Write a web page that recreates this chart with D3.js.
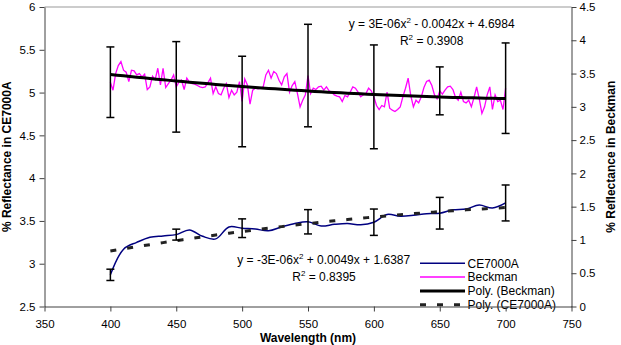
<!DOCTYPE html>
<html>
<head>
<meta charset="utf-8">
<script src="https://cdnjs.cloudflare.com/ajax/libs/d3/7.8.5/d3.min.js"></script>
<style>
    body {
        margin: 0;
        background: #fff;
        font-family: "Liberation Sans", Arial, sans-serif;
    }
    .axis text {
        font-size: 11.5px;
        fill: #000;
    }
    .axis path, .axis line {
        stroke: #404040;
    }
</style>
</head>
<body>
<svg width="621" height="345"></svg>
<script>
    // CE7000A, every 10 nm (left axis)
    var ceWavelengths = [400, 410, 420, 430, 440, 450, 460, 470, 480, 490,
        500, 510, 520, 530, 540, 550, 560, 570, 580, 590,
        600, 610, 620, 630, 640, 650, 660, 670, 680, 690, 700];
    var ceValues = [2.87, 3.17, 3.25, 3.31, 3.325, 3.34, 3.395, 3.32, 3.29, 3.43,
        3.415, 3.405, 3.385, 3.43, 3.47, 3.49, 3.44, 3.46, 3.47, 3.455,
        3.485, 3.575, 3.555, 3.565, 3.585, 3.59, 3.63, 3.64, 3.685, 3.65, 3.71];

    // Beckman, every 2 nm from 400 to 700 (right axis)
    var beckmanWavelengths = d3.range(400, 701, 2);
    var beckmanValues = [
        3.37, 3.25, 3.50, 3.62, 3.68, 3.55, 3.52, 3.38, 3.55, 3.54,
        3.48, 3.50, 3.45, 3.49, 3.26, 3.30, 3.46, 3.41, 3.58, 3.33,
        3.58, 3.29, 3.35, 3.40, 3.48, 3.30, 3.37, 3.40, 3.26, 3.43,
        3.37, 3.35, 3.34, 3.32, 3.30, 3.29, 3.30, 3.36, 3.43, 3.20,
        3.30, 3.20, 3.18, 3.28, 3.35, 3.14, 3.25, 3.18, 3.22, 3.38,
        3.08, 3.42, 3.33, 3.04, 3.25, 3.28, 3.27, 3.28, 3.30, 3.48,
        3.55, 3.43, 3.53, 3.50, 3.40, 3.33, 3.45, 3.50, 3.22, 3.32,
        3.38, 3.20, 3.00, 3.10, 3.18, 3.47, 3.20, 3.28, 3.26, 3.30,
        3.31, 3.25, 3.30, 3.24, 3.22, 3.18, 3.16, 3.15, 3.08, 3.17,
        3.15, 3.22, 3.30, 3.28, 3.22, 3.15, 3.18, 3.20, 3.28, 3.24,
        3.15, 3.02, 2.96, 3.02, 3.00, 3.22, 2.98, 2.95, 2.93, 2.96,
        3.00, 3.15, 3.28, 3.43, 3.17, 3.00, 3.10, 3.06, 3.15, 3.29,
        3.38, 3.40, 3.32, 3.18, 3.12, 3.24, 3.19, 3.25, 3.30, 3.31,
        3.26, 3.14, 3.10, 3.22, 3.08, 3.06, 3.10, 3.00, 3.14, 3.30,
        3.12, 2.90, 3.00, 3.18, 3.30, 2.96, 3.18, 3.08, 3.10, 2.96,
        3.28];

    // error bars (+/- amounts)
    var errWavelengths = [400, 450, 500, 550, 600, 650, 700];
    var ceErr = [0.066, 0.064, 0.109, 0.142, 0.154, 0.185, 0.21];
    var beckmanErr = [0.53, 0.68, 0.68, 0.77, 0.78, 0.36, 0.68];

    var xTicks = [350, 400, 450, 500, 550, 600, 650, 700, 750];
    var leftTicks = [2.5, 3, 3.5, 4, 4.5, 5, 5.5, 6];
    var rightTicks = [0, 0.5, 1, 1.5, 2, 2.5, 3, 3.5, 4, 4.5];

    var svg = d3.select("svg");
    var plotL = 44.5, plotR = 571.5, plotT = 7, plotB = 306.5;

    var x = d3.scaleLinear().domain([350, 750]).range([plotL, plotR]);
    var yL = d3.scaleLinear().domain([2.5, 6]).range([plotB, plotT]);
    var yR = d3.scaleLinear().domain([0, 4.5]).range([plotB, plotT]);

    // quadratic least squares, x centred so the sums stay small
    function polyFit(xs, ys) {
        var S = [0, 0, 0, 0, 0], T = [0, 0, 0];
        xs.forEach(function(xv, i) {
            var t = (xv - 550) / 100, p = 1;
            for (var k = 0; k < 5; k++) {
                S[k] += p;
                if (k < 3) T[k] += p * ys[i];
                p *= t;
            }
        });
        function det(m) {
            return m[0][0] * (m[1][1] * m[2][2] - m[1][2] * m[2][1])
                - m[0][1] * (m[1][0] * m[2][2] - m[1][2] * m[2][0])
                + m[0][2] * (m[1][0] * m[2][1] - m[1][1] * m[2][0]);
        }
        var A = [[S[0], S[1], S[2]], [S[1], S[2], S[3]], [S[2], S[3], S[4]]];
        var D = det(A), c = [];
        for (var j = 0; j < 3; j++) {
            var M = A.map(function(row, r) { return row.map(function(v, col) { return col === j ? T[r] : v; }); });
            c.push(det(M) / D);
        }
        return function(xv) { var t = (xv - 550) / 100; return c[0] + c[1] * t + c[2] * t * t; };
    }

    var ceData = ceWavelengths.map(function(w, i) { return [w, ceValues[i]]; });
    var beckData = beckmanWavelengths.map(function(w, i) { return [w, beckmanValues[i]]; });

    var ceFit = polyFit(ceWavelengths, ceValues);
    var beckFit = polyFit(beckmanWavelengths, beckmanValues);
    var fitX = d3.range(400, 701, 5);

    // plot area border on top
    svg.append("line")
        .attr("x1", plotL).attr("x2", plotR).attr("y1", plotT).attr("y2", plotT)
        .attr("stroke", "#999").attr("stroke-width", 1);

    // legend goes under the axis (the axis line runs through the last entry)
    var legendItems = [
        {name: "CE7000A", color: "#000080", width: 1.5, dash: null},
        {name: "Beckman", color: "#ff00ff", width: 1.5, dash: null},
        {name: "Poly. (Beckman)", color: "#000", width: 3, dash: null},
        {name: "Poly. (CE7000A)", color: "#222", width: 3, dash: "6,11"}
    ];
    var legend = svg.append("g")
        .selectAll("g")
        .data(legendItems)
        .enter().append("g")
        .attr("transform", function(d, i) { return "translate(420," + (263.3 + i * 13.8) + ")"; });
    legend.append("line")
        .attr("x1", 0).attr("x2", 45)
        .attr("stroke", function(d) { return d.color; })
        .attr("stroke-width", function(d) { return d.width; })
        .attr("stroke-dasharray", function(d) { return d.dash; });
    legend.append("text")
        .attr("x", 47.5)
        .attr("dy", "0.36em")
        .attr("font-size", "12px")
        .text(function(d) { return d.name; });

    var ceLine = d3.line()
        .x(function(d) { return x(d[0]); })
        .y(function(d) { return yL(d[1]); })
        .curve(d3.curveCatmullRom.alpha(0.5));
    var beckLine = d3.line()
        .x(function(d) { return x(d[0]); })
        .y(function(d) { return yR(d[1]); });

    svg.append("path")
        .datum(ceData)
        .attr("d", ceLine)
        .attr("fill", "none")
        .attr("stroke", "#000080")
        .attr("stroke-width", 1.5);

    svg.append("path")
        .datum(beckData)
        .attr("d", beckLine)
        .attr("fill", "none")
        .attr("stroke", "#ff00ff")
        .attr("stroke-width", 1.3);

    // trend lines
    svg.append("path")
        .datum(fitX)
        .attr("d", d3.line().x(function(d) { return x(d); }).y(function(d) { return yR(beckFit(d)); }))
        .attr("fill", "none")
        .attr("stroke", "#000")
        .attr("stroke-width", 3);

    svg.append("path")
        .datum(fitX)
        .attr("d", d3.line().x(function(d) { return x(d); }).y(function(d) { return yL(ceFit(d)); }))
        .attr("fill", "none")
        .attr("stroke", "#222")
        .attr("stroke-width", 3)
        .attr("stroke-dasharray", "6,11");

    // error bars
    function errorBars(values, wavelengths, errs, y) {
        var data = errWavelengths.map(function(w, i) {
            return {w: w, v: values[wavelengths.indexOf(w)], e: errs[i]};
        });
        var g = svg.append("g")
            .attr("stroke", "#000")
            .attr("stroke-width", 1.5)
            .selectAll("g")
            .data(data)
            .enter().append("g");
        g.append("line")
            .attr("x1", function(d) { return x(d.w); })
            .attr("x2", function(d) { return x(d.w); })
            .attr("y1", function(d) { return y(d.v - d.e); })
            .attr("y2", function(d) { return y(d.v + d.e); });
        g.append("line")
            .attr("x1", function(d) { return x(d.w) - 4; })
            .attr("x2", function(d) { return x(d.w) + 4; })
            .attr("y1", function(d) { return y(d.v + d.e); })
            .attr("y2", function(d) { return y(d.v + d.e); });
        g.append("line")
            .attr("x1", function(d) { return x(d.w) - 4; })
            .attr("x2", function(d) { return x(d.w) + 4; })
            .attr("y1", function(d) { return y(d.v - d.e); })
            .attr("y2", function(d) { return y(d.v - d.e); });
    }
    errorBars(ceValues, ceWavelengths, ceErr, yL);
    errorBars(beckmanValues, beckmanWavelengths, beckmanErr, yR);

    // axes
    svg.append("g")
        .attr("class", "axis")
        .attr("transform", "translate(0," + plotB + ")")
        .call(d3.axisBottom(x).tickValues(xTicks).tickFormat(String).tickSize(5).tickSizeOuter(0).tickPadding(8));

    svg.append("g")
        .attr("class", "axis")
        .attr("transform", "translate(" + plotL + ",0)")
        .call(d3.axisLeft(yL).tickValues(leftTicks).tickFormat(String).tickSize(5).tickSizeOuter(0).tickPadding(4));

    svg.append("g")
        .attr("class", "axis")
        .attr("transform", "translate(" + plotR + ",0)")
        .call(d3.axisRight(yR).tickValues(rightTicks).tickFormat(String).tickSize(5).tickSizeOuter(0).tickPadding(3));

    // axis titles
    svg.append("text")
        .attr("transform", "translate(10.5," + ((plotT + plotB) / 2) + ") rotate(-90)")
        .attr("text-anchor", "middle")
        .attr("font-size", "12px")
        .attr("font-weight", "bold")
        .text("% Reflectance in CE7000A");

    svg.append("text")
        .attr("transform", "translate(615," + ((plotT + plotB) / 2) + ") rotate(-90)")
        .attr("text-anchor", "middle")
        .attr("font-size", "12px")
        .attr("font-weight", "bold")
        .text("% Reflectance in Beckman");

    svg.append("text")
        .attr("x", (plotL + plotR) / 2)
        .attr("y", 342)
        .attr("text-anchor", "middle")
        .attr("font-size", "12px")
        .attr("font-weight", "bold")
        .text("Wavelength (nm)");

    // trend equations
    function equation(cx, cy, before, after) {
        var t = svg.append("text")
            .attr("x", cx).attr("y", cy)
            .attr("text-anchor", "middle")
            .attr("font-size", "12px");
        t.append("tspan").text(before);
        t.append("tspan").attr("dy", -5).attr("font-size", "8px").text("2");
        t.append("tspan").attr("dy", 5).text(after);
    }
    equation(431.7, 27.5, "y = 3E-06x", " - 0.0042x + 4.6984");
    equation(431.7, 45, "R", " = 0.3908");
    equation(323.7, 263.5, "y = -3E-06x", " + 0.0049x + 1.6387");
    equation(324, 281, "R", " = 0.8395");
</script>
</body>
</html>
